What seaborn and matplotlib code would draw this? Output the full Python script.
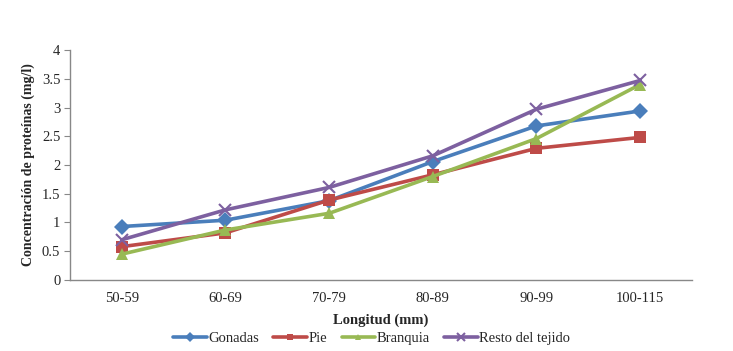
import pandas as pd
import matplotlib.pyplot as plt
import seaborn as sns

lengths = ["50-59", "60-69", "70-79", "80-89", "90-99", "100-115"]
gonadas = [0.93, 1.04, 1.38, 2.06, 2.68, 2.94]
pie = [0.58, 0.82, 1.39, 1.83, 2.29, 2.48]
branquia = [0.45, 0.87, 1.16, 1.80, 2.46, 3.40]
resto = [0.70, 1.22, 1.61, 2.16, 2.97, 3.47]

series = ["Gonadas", "Pie", "Branquia", "Resto del tejido"]
colors = ["#4A7EBB", "#BE4B48", "#98B954", "#7D60A0"]
markers = ["D", "s", "^", "x"]

df = pd.DataFrame({"Longitud": lengths, "Gonadas": gonadas, "Pie": pie,
                   "Branquia": branquia, "Resto del tejido": resto})
long = df.melt(id_vars="Longitud", var_name="Tejido", value_name="Proteina")

sns.set_style("white")
plt.rcParams["font.family"] = ["Liberation Serif", "DejaVu Serif"]

fig = plt.figure(figsize=(7.33, 3.51), dpi=100)
ax = fig.add_axes([0.0955, 0.2023, 0.8485, 0.6552])

for name, color, mk in zip(series, colors, markers):
    sub = long[long.Tejido == name]
    sns.lineplot(data=sub, x="Longitud", y="Proteina", color=color, marker=mk,
                 markersize=8 if mk != "x" else 9, markeredgewidth=0 if mk != "x" else 1.5,
                 markeredgecolor=color, linewidth=2.6, label=name, ax=ax, sort=False)

ax.set_xlim(-0.5, 5.5)
ax.set_ylim(0, 4)
ax.set_yticks([0, 0.5, 1, 1.5, 2, 2.5, 3, 3.5, 4])
ax.set_yticklabels(["0", "0.5", "1", "1.5", "2", "2.5", "3", "3.5", "4"])
ax.tick_params(axis="y", direction="out", length=4, color="#888888", labelsize=10.5, left=True, pad=3)
ax.tick_params(axis="x", length=0, labelsize=10.5, pad=9)
for s in ["top", "right"]:
    ax.spines[s].set_visible(False)
for s in ["left", "bottom"]:
    ax.spines[s].set_color("#888888")
    ax.spines[s].set_linewidth(1)

ax.set_xlabel("Longitud (mm)", fontsize=10.5, fontweight="bold", labelpad=6)
ax.set_ylabel("Concentración de proteínas (mg/l)", fontsize=10, fontweight="bold", labelpad=5)

ax.legend(loc="upper center", bbox_to_anchor=(0.485, -0.2), ncol=4, frameon=False,
          fontsize=10.5, handlelength=2.3, handletextpad=0.1, columnspacing=1.0,
          markerscale=0.6, borderaxespad=0)

fig.savefig("out.png", dpi=100)
